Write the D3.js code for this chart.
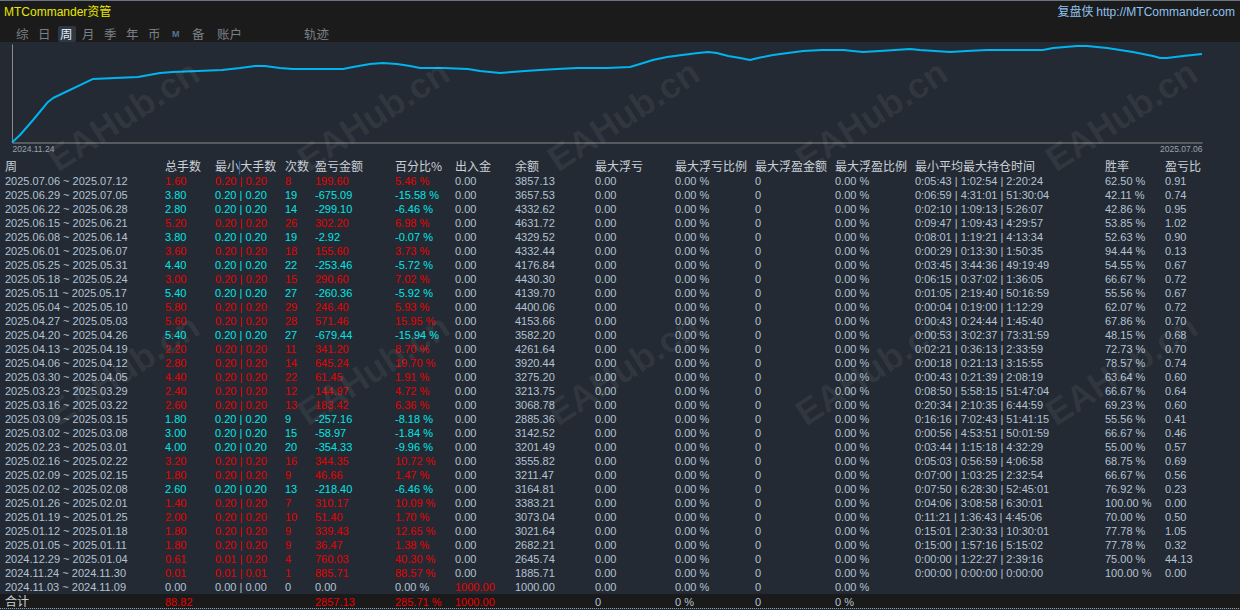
<!DOCTYPE html>
<html lang="zh">
<head>
  <meta charset="UTF-8">
  <title>MTCommander资管 - 周</title>
  <script src="https://d3js.org/d3.v7.min.js"></script>
  <style>
    body {
      margin: 0;
      overflow: hidden;
      background: #242a33;
    }
    svg {
      display: block;
      font-family: "Liberation Sans", Arial, "Noto Sans CJK SC", sans-serif;
    }
  </style>
</head>
<body>
  <script>
    // ---- data ----
    const tabs = ["综", "日", "周", "月", "季", "年", "币", "M", "备", "账户", "轨迹"];
    const activeTab = "周";

    // equity trajectory: trade number vs normalised value (0 = start, 100 = peak)
    const trackTrade = [0, 3.0, 7.9, 13.5, 15.4, 30.4, 38.6, 47.2, 55.5, 60.3, 69.7, 78.7, 85.5, 91.1, 94.8,
      100.4, 105.3, 124.1, 127.8, 134.2, 139.0, 144.3, 149.2, 152.9, 161.5, 170.9, 175.4, 179.2, 182.9,
      187.4, 192.3, 197.9, 204.3, 211.8, 223.0, 231.6, 235.4, 240.2, 245.5, 251.1, 257.1, 260.9, 264.2,
      268.4, 272.9, 276.6, 279.6, 285.2, 290.8, 296.5, 303.6, 311.5, 318.9, 325.3, 336.6, 340.3, 351.6,
      357.9, 365.4, 386.4, 390.2, 399.2, 402.9, 410.4, 420.1, 427.6, 430.3, 432.9, 438.9, 446.0];
    const trackValue = [0, 7.7, 23.2, 41.8, 45.9, 65.5, 66.5, 67.5, 71.6, 72.7, 73.7, 74.7, 76.8, 78.9, 78.9,
      76.8, 75.8, 75.8, 77.8, 80.9, 82.0, 80.9, 78.9, 76.8, 76.8, 75.8, 73.7, 72.7, 71.6,
      72.7, 73.7, 74.7, 75.8, 76.8, 76.8, 77.8, 80.9, 85.1, 88.1, 90.2, 92.3, 93.3, 92.3,
      89.2, 87.1, 85.1, 87.1, 90.2, 92.3, 94.3, 95.4, 95.4, 93.3, 94.3, 96.4, 95.4, 93.3,
      94.3, 95.4, 95.4, 97.4, 99.5, 99.5, 97.4, 93.3, 89.2, 87.1, 87.1, 89.2, 91.2];
    const trackStart = "2024.11.24";
    const trackEnd = "2025.07.06";

    const headers = ["周", "总手数", "最小|大手数", "次数", "盈亏金额", "百分比%", "出入金", "余额", "最大浮亏",
      "最大浮亏比例", "最大浮盈金额", "最大浮盈比例", "最小平均最大持仓时间", "胜率", "盈亏比"];

    const weeks = ["2025.07.06 ~ 2025.07.12", "2025.06.29 ~ 2025.07.05", "2025.06.22 ~ 2025.06.28",
      "2025.06.15 ~ 2025.06.21", "2025.06.08 ~ 2025.06.14", "2025.06.01 ~ 2025.06.07", "2025.05.25 ~ 2025.05.31",
      "2025.05.18 ~ 2025.05.24", "2025.05.11 ~ 2025.05.17", "2025.05.04 ~ 2025.05.10", "2025.04.27 ~ 2025.05.03",
      "2025.04.20 ~ 2025.04.26", "2025.04.13 ~ 2025.04.19", "2025.04.06 ~ 2025.04.12", "2025.03.30 ~ 2025.04.05",
      "2025.03.23 ~ 2025.03.29", "2025.03.16 ~ 2025.03.22", "2025.03.09 ~ 2025.03.15", "2025.03.02 ~ 2025.03.08",
      "2025.02.23 ~ 2025.03.01", "2025.02.16 ~ 2025.02.22", "2025.02.09 ~ 2025.02.15", "2025.02.02 ~ 2025.02.08",
      "2025.01.26 ~ 2025.02.01", "2025.01.19 ~ 2025.01.25", "2025.01.12 ~ 2025.01.18", "2025.01.05 ~ 2025.01.11",
      "2024.12.29 ~ 2025.01.04", "2024.11.24 ~ 2024.11.30", "2024.11.03 ~ 2024.11.09"];
    const totalLots = [1.60, 3.80, 2.80, 5.20, 3.80, 3.60, 4.40, 3.00, 5.40, 5.80, 5.60, 5.40, 2.20, 2.80, 4.40,
      2.40, 2.60, 1.80, 3.00, 4.00, 3.20, 1.80, 2.60, 1.40, 2.00, 1.80, 1.80, 0.61, 0.01, 0.00];
    const minLots = [0.20, 0.20, 0.20, 0.20, 0.20, 0.20, 0.20, 0.20, 0.20, 0.20, 0.20, 0.20, 0.20, 0.20, 0.20,
      0.20, 0.20, 0.20, 0.20, 0.20, 0.20, 0.20, 0.20, 0.20, 0.20, 0.20, 0.20, 0.01, 0.01, 0.00];
    const maxLots = [0.20, 0.20, 0.20, 0.20, 0.20, 0.20, 0.20, 0.20, 0.20, 0.20, 0.20, 0.20, 0.20, 0.20, 0.20,
      0.20, 0.20, 0.20, 0.20, 0.20, 0.20, 0.20, 0.20, 0.20, 0.20, 0.20, 0.20, 0.20, 0.01, 0.00];
    const counts = [8, 19, 14, 26, 19, 18, 22, 15, 27, 29, 28, 27, 11, 14, 22, 12, 13, 9, 15, 20, 16, 9, 13, 7,
      10, 9, 9, 4, 1, 0];
    const pnl = [199.60, -675.09, -299.10, 302.20, -2.92, 155.60, -253.46, 290.60, -260.36, 246.40, 571.46,
      -679.44, 341.20, 645.24, 61.45, 144.97, 183.42, -257.16, -58.97, -354.33, 344.35, 46.66, -218.40, 310.17,
      51.40, 339.43, 36.47, 760.03, 885.71, 0.00];
    const pct = [5.46, -15.58, -6.46, 6.98, -0.07, 3.73, -5.72, 7.02, -5.92, 5.93, 15.95, -15.94, 8.70, 19.70,
      1.91, 4.72, 6.36, -8.18, -1.84, -9.96, 10.72, 1.47, -6.46, 10.09, 1.70, 12.65, 1.38, 40.30, 88.57, 0.00];
    const deposit = [0, 0, 0, 0, 0, 0, 0, 0, 0, 0, 0, 0, 0, 0, 0, 0, 0, 0, 0, 0, 0, 0, 0, 0, 0, 0, 0, 0, 0, 1000];
    const balance = [3857.13, 3657.53, 4332.62, 4631.72, 4329.52, 4332.44, 4176.84, 4430.30, 4139.70, 4400.06,
      4153.66, 3582.20, 4261.64, 3920.44, 3275.20, 3213.75, 3068.78, 2885.36, 3142.52, 3201.49, 3555.82,
      3211.47, 3164.81, 3383.21, 3073.04, 3021.64, 2682.21, 2645.74, 1885.71, 1000.00];
    const holdTimes = ["0:05:43 | 1:02:54 | 2:20:24", "0:06:59 | 4:31:01 | 51:30:04", "0:02:10 | 1:09:13 | 5:26:07",
      "0:09:47 | 1:09:43 | 4:29:57", "0:08:01 | 1:19:21 | 4:13:34", "0:00:29 | 0:13:30 | 1:50:35",
      "0:03:45 | 3:44:36 | 49:19:49", "0:06:15 | 0:37:02 | 1:36:05", "0:01:05 | 2:19:40 | 50:16:59",
      "0:00:04 | 0:19:00 | 1:12:29", "0:00:43 | 0:24:44 | 1:45:40", "0:00:53 | 3:02:37 | 73:31:59",
      "0:02:21 | 0:36:13 | 2:33:59", "0:00:18 | 0:21:13 | 3:15:55", "0:00:43 | 0:21:39 | 2:08:19",
      "0:08:50 | 5:58:15 | 51:47:04", "0:20:34 | 2:10:35 | 6:44:59", "0:16:16 | 7:02:43 | 51:41:15",
      "0:00:56 | 4:53:51 | 50:01:59", "0:03:44 | 1:15:18 | 4:32:29", "0:05:03 | 0:56:59 | 4:06:58",
      "0:07:00 | 1:03:25 | 2:32:54", "0:07:50 | 6:28:30 | 52:45:01", "0:04:06 | 3:08:58 | 6:30:01",
      "0:11:21 | 1:36:43 | 4:45:06", "0:15:01 | 2:30:33 | 10:30:01", "0:15:00 | 1:57:16 | 5:15:02",
      "0:00:00 | 1:22:27 | 2:39:16", "0:00:00 | 0:00:00 | 0:00:00", ""];
    const winRate = [62.50, 42.11, 42.86, 53.85, 52.63, 94.44, 54.55, 66.67, 55.56, 62.07, 67.86, 48.15, 72.73,
      78.57, 63.64, 66.67, 69.23, 55.56, 66.67, 55.00, 68.75, 66.67, 76.92, 100.00, 70.00, 77.78, 77.78, 75.00,
      100.00, null];
    const pnlRatio = [0.91, 0.74, 0.95, 1.02, 0.90, 0.13, 0.67, 0.72, 0.67, 0.72, 0.70, 0.68, 0.70, 0.74, 0.60,
      0.64, 0.60, 0.41, 0.46, 0.57, 0.69, 0.56, 0.23, 0.00, 0.50, 1.05, 0.32, 44.13, 0.00, null];

    const totalRow = ["合计", "88.82", "", "", "2857.13", "285.71 %", "1000.00", "", "0", "0 %", "0", "0 %", "", "", ""];
    const totalRed = [false, true, false, false, true, true, true, false, false, false, false, false, false, false, false];

    // ---- layout ----
    const width = 1240, height = 610;
    const colX = [5, 165, 215, 285, 315, 395, 455, 515, 595, 675, 755, 835, 915, 1105, 1165];
    const RED = "#e80000", CYAN = "#00e6e6", PLAIN = "#b3c2d4", HEAD = "#c9d0d8";
    const cjk = "'Noto Sans CJK SC', 'Liberation Sans', sans-serif";

    const svg = d3.select("body").append("svg")
      .attr("width", width)
      .attr("height", height);

    svg.append("rect").attr("width", width).attr("height", height).attr("fill", "#242a33");

    // top bar
    svg.append("rect").attr("width", width).attr("height", 42).attr("fill", "#1b1b1b");
    svg.append("line").attr("x1", 0).attr("x2", width).attr("y1", 0.5).attr("y2", 0.5)
      .attr("stroke", "#6b7380");

    const title = svg.append("text").attr("x", 4).attr("y", 16).attr("font-size", 12).attr("fill", "#e8e800");
    title.append("tspan").text("MTCommander");
    title.append("tspan").attr("font-family", cjk).text("资管");

    const site = svg.append("text").attr("x", 1235).attr("y", 16).attr("text-anchor", "end")
      .attr("font-size", 12).attr("fill", "#8fc2ee");
    site.append("tspan").attr("font-family", cjk).text("复盘侠 ");
    site.append("tspan").text("http://MTCommander.com");

    const tabX = [16, 38, 60, 82, 104, 126, 148, 172, 192, 217, 304];
    svg.append("rect").attr("x", 58).attr("y", 26).attr("width", 18).attr("height", 16).attr("rx", 2)
      .attr("fill", "#2e3744");
    svg.selectAll("text.tab")
      .data(tabs)
      .enter()
      .append("text")
      .attr("class", "tab")
      .attr("x", (d, i) => tabX[i])
      .attr("y", d => d === "M" ? 37 : 38.5)
      .attr("font-family", d => d === "M" ? "'Liberation Sans', sans-serif" : cjk)
      .attr("font-size", d => d === "M" ? 9 : 12.5)
      .attr("font-weight", d => d === "M" ? "bold" : "normal")
      .attr("fill", d => d === activeTab ? "#e3e8ef" : (d === "M" ? "#56759a" : "#7b8087"))
      .text(d => d);

    // trajectory chart
    const x = d3.scaleLinear().domain([0, 446]).range([12, 1202]);
    const y = d3.scaleLinear().domain([0, 100]).range([142.5, 45.5]);

    const xAxis = svg.append("g")
      .attr("transform", "translate(0,142.5)")
      .call(d3.axisBottom(x).tickValues([0, 446]).tickSize(0).tickPadding(3)
        .tickFormat((d, i) => i === 0 ? trackStart : trackEnd));
    xAxis.select(".domain").attr("stroke", "#8a8a8a");
    xAxis.selectAll("text")
      .attr("font-size", 8.5)
      .attr("fill", "#99a2ad")
      .attr("font-family", "'Liberation Sans', sans-serif")
      .attr("text-anchor", (d, i) => i === 0 ? "start" : "end");

    const yAxis = svg.append("g")
      .attr("transform", "translate(12,0)")
      .call(d3.axisLeft(y.copy().range([142.5, 44])).tickValues([]).tickSize(0));
    yAxis.select(".domain").attr("stroke", "#8a8a8a");

    const line = d3.line()
      .x(d => x(d[0]))
      .y(d => y(d[1]));

    svg.append("path")
      .datum(d3.zip(trackTrade, trackValue))
      .attr("fill", "none")
      .attr("stroke", "#00b4f0")
      .attr("stroke-width", 2)
      .attr("stroke-linejoin", "round")
      .attr("d", line);

    // table
    const rowY = d3.scaleLinear().domain([0, 1]).range([185, 199]);
    // plain hyphen for negatives, like the source app
    const f2 = d3.formatLocale({ decimal: ".", thousands: "", grouping: [3], currency: ["", ""], minus: "-" })
      .format(".2f");
    const signColor = v => v > 0 ? RED : (v < 0 ? CYAN : PLAIN);

    const head = svg.append("g").attr("font-family", cjk).attr("font-size", 12).attr("fill", HEAD);
    headers.forEach((h, i) => {
      const t = head.append("text").attr("x", colX[i]).attr("y", 171);
      if (h.includes("|")) {
        const parts = h.split("|");
        t.append("tspan").text(parts[0]);
        t.append("tspan").attr("fill", "#3f8fe0").attr("dx", -1).text("|");
        t.append("tspan").attr("dx", -1).text(parts[1]);
      } else {
        t.text(h);
      }
    });

    const rows = weeks.map((w, i) => {
      const c = signColor(pnl[i]);
      return [
        [w, PLAIN],
        [f2(totalLots[i]), c],
        [f2(minLots[i]) + " | " + f2(maxLots[i]), c],
        [String(counts[i]), c],
        [f2(pnl[i]), c],
        [f2(pct[i]) + " %", c],
        [f2(deposit[i]), deposit[i] > 0 ? RED : PLAIN],
        [f2(balance[i]), PLAIN],
        ["0.00", PLAIN],
        ["0.00 %", PLAIN],
        ["0", PLAIN],
        ["0.00 %", PLAIN],
        [holdTimes[i], PLAIN],
        [winRate[i] == null ? "" : f2(winRate[i]) + " %", PLAIN],
        [pnlRatio[i] == null ? "" : f2(pnlRatio[i]), PLAIN]
      ];
    });

    const body = svg.append("g").attr("font-size", 11);
    const rowG = body.selectAll("g.row")
      .data(rows)
      .enter()
      .append("g")
      .attr("class", "row")
      .attr("transform", (d, i) => `translate(0,${rowY(i)})`);

    rowG.selectAll("text")
      .data(d => d)
      .enter()
      .append("text")
      .attr("x", (d, j) => colX[j])
      .attr("fill", d => d[1])
      .text(d => d[0]);

    // total row
    svg.append("rect").attr("x", 0).attr("y", 594).attr("width", width).attr("height", 14).attr("fill", "#1a1a1a");
    svg.append("line").attr("x1", 0).attr("x2", width).attr("y1", 608.5).attr("y2", 608.5)
      .attr("stroke", "#9aa0a8").attr("stroke-dasharray", "1,1");
    svg.append("g").attr("font-size", 11)
      .selectAll("text")
      .data(totalRow)
      .enter()
      .append("text")
      .attr("x", (d, j) => colX[j])
      .attr("y", 606)
      .attr("font-family", (d, j) => j === 0 ? cjk : null)
      .attr("font-size", (d, j) => j === 0 ? 12 : 11)
      .attr("fill", (d, j) => j === 0 ? HEAD : (totalRed[j] ? RED : PLAIN))
      .text(d => d);

    // watermark
    const wmX = [125, 375, 625, 873, 1123];
    const wmY = [118, 372];
    const wm = svg.append("g").attr("pointer-events", "none");
    wmY.forEach(cy => wmX.forEach(cx => {
      wm.append("text")
        .attr("transform", `translate(${cx},${cy}) rotate(-33)`)
        .attr("text-anchor", "middle")
        .attr("dominant-baseline", "middle")
        .attr("font-family", "'Liberation Sans', Arial, sans-serif")
        .attr("font-weight", "bold")
        .attr("font-size", 36)
        .attr("fill", "#ffffff")
        .attr("fill-opacity", 0.065)
        .text("EAHub.cn");
    }));
  </script>
</body>
</html>
